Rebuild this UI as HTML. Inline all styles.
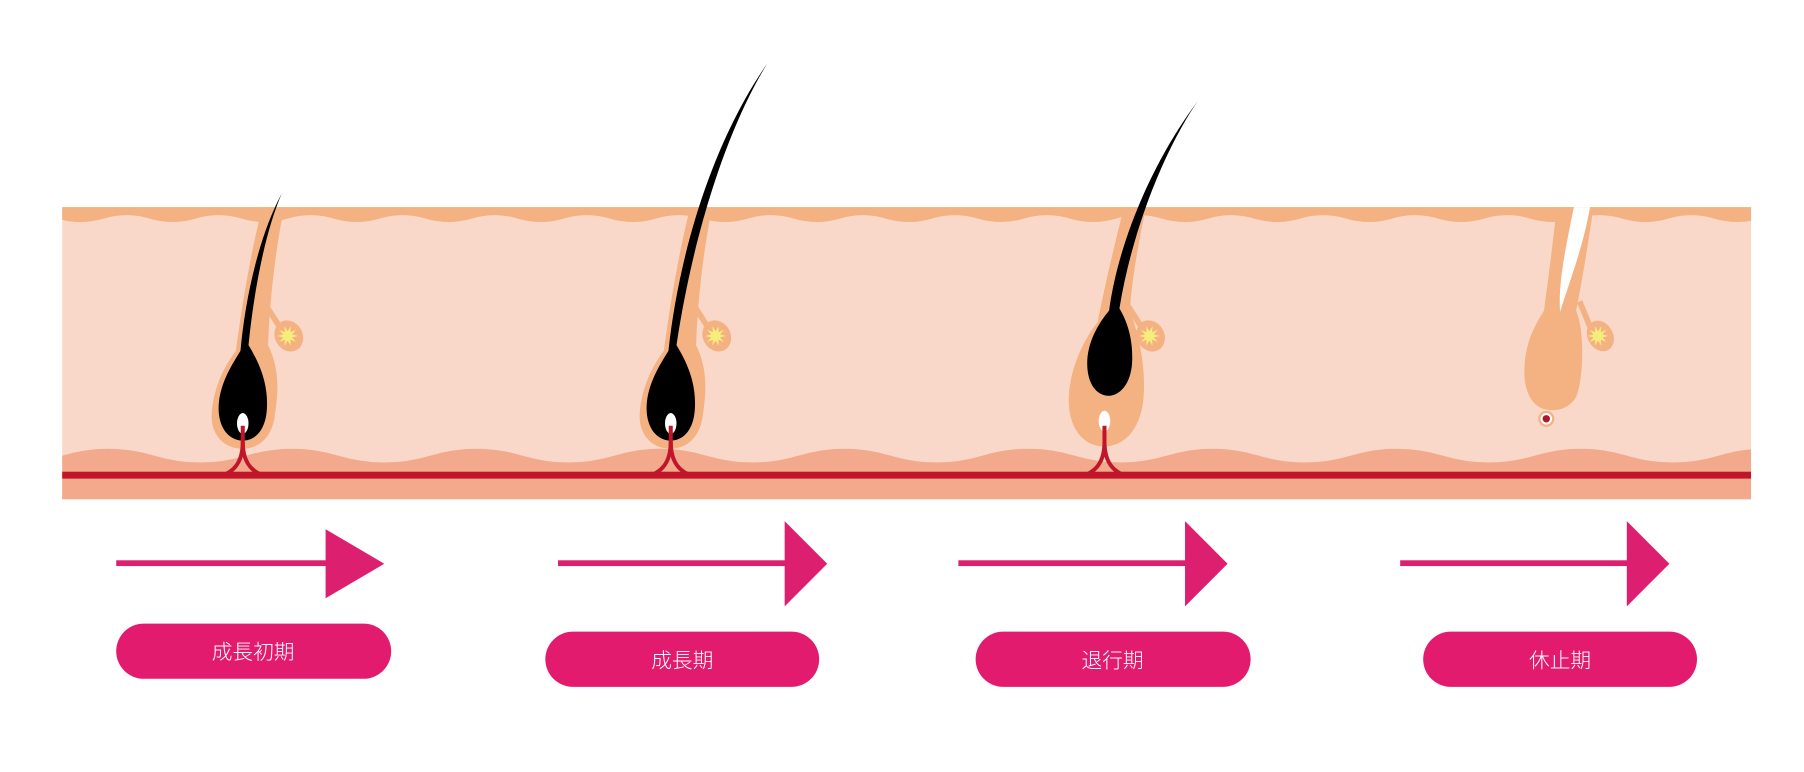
<!DOCTYPE html>
<html><head><meta charset="utf-8"><style>
html,body{margin:0;padding:0;background:#fff;width:1804px;height:772px;overflow:hidden}
svg{display:block}
</style></head><body>
<svg width="1804" height="772" viewBox="0 0 1568 671" xmlns="http://www.w3.org/2000/svg">
<defs>
<clipPath id="skin"><rect x="54" y="0" width="1468" height="434"/></clipPath>
<polygon id="star" fill="#f6ee7c" points="9,0 3.8,1.24 7.28,5.29 2.35,3.24 2.78,8.56 0,4 -2.78,8.56 -2.35,3.24 -7.28,5.29 -3.8,1.24 -9,0 -3.8,-1.24 -7.28,-5.29 -2.35,-3.24 -2.78,-8.56 0,-4 2.78,-8.56 2.35,-3.24 7.28,-5.29 3.8,-1.24"/>
<g id="gland">
<path d="M18,262 L32,284" stroke="#f4b283" stroke-width="5" fill="none"/>
<ellipse cx="40" cy="292" rx="12" ry="14" transform="rotate(-30 40 292)" fill="#f4b283"/>
<use href="#star" x="39" y="292"/>
</g>
<g id="vessel" fill="none" stroke="#c0152a" stroke-width="3.5">
<path d="M0,370 V384 C0,400 -6,410 -20,414"/>
<path d="M0,384 C0,400 6,410 20,414"/>
</g>
</defs>
<g clip-path="url(#skin)">
<rect x="54" y="180" width="1468" height="254" fill="#f9d8ca"/>
<path d="M54,180 H1530 V190 q-20,6 -40,0 t-40,0 t-40,0 t-40,0 t-40,0 t-40,0 t-40,0 t-40,0 t-40,0 t-40,0 t-40,0 t-40,0 t-40,0 t-40,0 t-40,0 t-40,0 t-40,0 t-40,0 t-40,0 t-40,0 t-40,0 t-40,0 t-40,0 t-40,0 t-40,0 t-40,0 t-40,0 t-40,0 t-40,0 t-40,0 t-40,0 t-40,0 t-40,0 t-40,0 t-40,0 t-40,0 t-40,0 t-40,0 V180 Z" fill="#f4b283"/>
<path d="M54,396 q40,-12 80,0 t80,0 t80,0 t80,0 t80,0 t80,0 t80,0 t80,0 t80,0 t80,0 t80,0 t80,0 t80,0 t80,0 t80,0 t80,0 t80,0 t80,0 t80,0 V434 H54 Z" fill="#f3a98b"/>
<rect x="54" y="410" width="1468" height="6" fill="#c0152a"/>
</g>

<!-- follicle 1 -->
<g transform="translate(211,0)">
<path d="M17,180 L36,180 C30,210 24,250 22,300 C32,320 31,340 28,360 C26,380 14,390 0,390 C-16,390 -28,378 -27,360 C-26,338 -16,318 -6,305 C0,260 8,215 17,180 Z" fill="#f4b283"/>
<use href="#gland"/>
<path d="M34,168 C20,200 10,250 5,300 C16,318 22,335 21,355 C20,375 10,383 0,383 C-12,383 -21,372 -21,355 C-21,335 -10,318 -2,305 C2,260 14,205 34,168 Z" fill="#000"/>
<ellipse cx="0" cy="368" rx="5" ry="9" fill="#fff"/>
<use href="#vessel"/>
</g>
<!-- follicle 2 -->
<g transform="translate(583,0)">
<path d="M17,180 L36,180 C30,210 24,250 22,300 C32,320 31,340 28,360 C26,380 14,390 0,390 C-16,390 -28,378 -27,360 C-26,338 -16,318 -6,305 C0,260 8,215 17,180 Z" fill="#f4b283"/>
<use href="#gland"/>
<path d="M84,55 C50,110 20,200 5,300 C16,318 22,335 21,355 C20,375 10,383 0,383 C-12,383 -21,372 -21,355 C-21,335 -10,318 -2,305 C6,230 32,130 84,55 Z" fill="#000"/>
<ellipse cx="0" cy="368" rx="5" ry="9" fill="#fff"/>
<use href="#vessel"/>
</g>
<!-- follicle 3 -->
<g transform="translate(960,0)">
<path d="M17,180 L36,180 C30,210 24,240 22,270 C30,290 36,320 34,345 C32,372 18,388 0,388 C-20,388 -32,370 -31,345 C-30,320 -18,295 -6,280 C0,250 8,215 17,180 Z" fill="#f4b283"/>
<use href="#gland"/>
<path d="M81,88 C52,130 24,200 13,268 C20,280 25,295 24,315 C23,335 12,344 4,344 C-8,344 -15,332 -15,316 C-15,298 -6,282 4,270 C12,210 42,140 81,88 Z" fill="#000"/>
<ellipse cx="0" cy="366" rx="5" ry="9" fill="#fff"/>
<use href="#vessel"/>
</g>
<!-- follicle 4 -->
<g transform="translate(1340,0)">
<path d="M13,180 L45,180 C40,215 34,250 30,270 C38,290 36,330 30,345 C24,355 14,358 4,356 C-8,354 -16,340 -15,320 C-14,295 -4,280 2,270 C6,240 10,210 13,180 Z" fill="#f4b283"/>
<path d="M28,180 L42,180 C36,215 24,245 16,271 C14,245 22,210 28,180 Z" fill="#fff"/>
<path d="M33,262 L42,284" stroke="#f4b283" stroke-width="5" fill="none"/>
<ellipse cx="51" cy="292" rx="11" ry="14" transform="rotate(-30 51 292)" fill="#f4b283"/>
<use href="#star" x="49" y="292"/>
<circle cx="4" cy="364" r="7" fill="#f4b283"/>
<circle cx="4" cy="364" r="5" fill="#fff"/>
<circle cx="4" cy="364" r="3.2" fill="#b0172a"/>
</g>

<g fill="#dd1f6f">
<rect x="101" y="487" width="184" height="5"/><polygon points="283,460 334,490 283,520"/>
<rect x="485" y="487" width="199" height="5"/><polygon points="682,453 719,490 682,527"/>
<rect x="833" y="487" width="199" height="5"/><polygon points="1030,453 1067,490 1030,527"/>
<rect x="1217" y="487" width="199" height="5"/><polygon points="1414,453 1451,490 1414,527"/>
</g>
<g fill="#e31b6f">
<rect x="101" y="542" width="239" height="48" rx="24"/>
<rect x="474" y="549" width="238" height="48" rx="24"/>
<rect x="848" y="549" width="239" height="48" rx="24"/>
<rect x="1237" y="549" width="238" height="48" rx="24"/>
</g>
<g fill="#fff" font-family="'Liberation Sans','Noto Sans CJK JP',sans-serif" font-size="18" font-weight="300" text-anchor="middle">
<text x="220" y="573">成長初期</text>
<text x="593" y="580">成長期</text>
<text x="967" y="580">退行期</text>
<text x="1356" y="580">休止期</text>
</g>
</svg>
</body></html>
